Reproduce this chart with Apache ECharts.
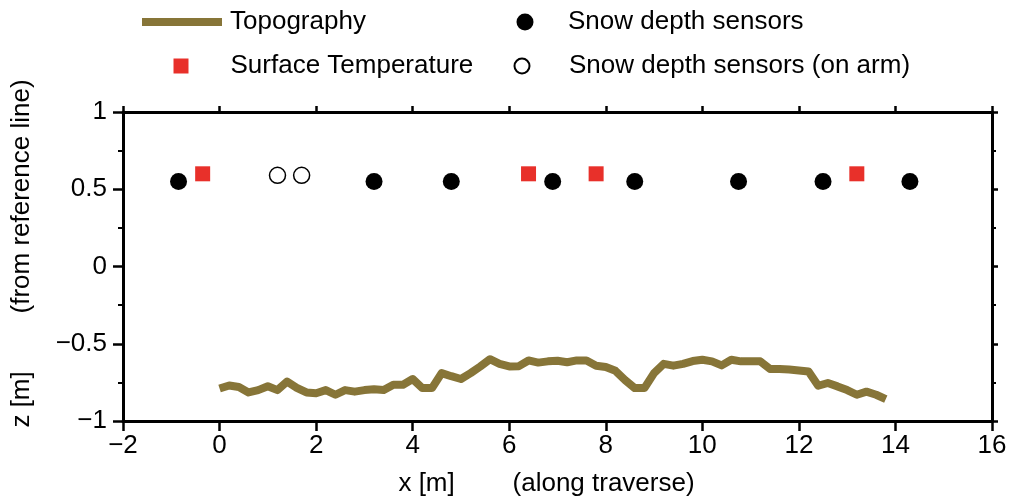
<!DOCTYPE html>
<html>
<head>
<meta charset="utf-8">
<script src="https://cdn.jsdelivr.net/npm/echarts@6/dist/echarts.min.js"></script>
<style>html,body{margin:0;padding:0;background:#fff}#c{width:1012px;height:502px}</style>
</head>
<body>
<div id="c"></div>
<script>
// Topography along traverse
const topoX = [0.0,0.2,0.4,0.6,0.8,1.0,1.2,1.4,1.6,1.8,2.0,2.2,2.4,2.6,2.8,3.0,3.2,3.4,3.6,3.8,
  4.0,4.2,4.4,4.6,4.8,5.0,5.2,5.4,5.6,5.8,6.0,6.2,6.4,6.6,6.8,7.0,7.2,7.4,7.6,7.8,
  8.0,8.2,8.4,8.6,8.8,9.0,9.2,9.4,9.6,9.8,10.0,10.2,10.4,10.6,10.8,11.0,11.2,11.4,11.6,11.8,
  12.0,12.2,12.4,12.6,12.8,13.0,13.2,13.4,13.6,13.8];
const topoZ = [-0.79,-0.77,-0.78,-0.815,-0.80,-0.775,-0.80,-0.745,-0.785,-0.815,-0.82,-0.80,-0.83,-0.80,-0.81,-0.80,-0.795,-0.80,-0.765,-0.765,
  -0.728,-0.787,-0.787,-0.69,-0.71,-0.728,-0.69,-0.647,-0.60,-0.63,-0.647,-0.645,-0.608,-0.622,-0.614,-0.61,-0.62,-0.608,-0.608,-0.642,
  -0.65,-0.675,-0.735,-0.787,-0.787,-0.69,-0.63,-0.642,-0.63,-0.612,-0.604,-0.614,-0.64,-0.604,-0.614,-0.614,-0.614,-0.663,-0.663,-0.667,
  -0.673,-0.68,-0.772,-0.754,-0.776,-0.80,-0.83,-0.81,-0.83,-0.858];
// Surface temperature sensors
const tempX = [-0.35, 6.4, 7.8, 13.2];
const tempZ = [0.6, 0.6, 0.6, 0.6];
// Snow depth sensors
const snowX = [-0.85, 3.2, 4.8, 6.9, 8.6, 10.75, 12.5, 14.3];
const snowZ = [0.55, 0.55, 0.55, 0.55, 0.55, 0.55, 0.55, 0.55];
// Snow depth sensors on arm
const armX = [1.2, 1.7];
const armZ = [0.59, 0.59];

const pairs = (xs, ys) => xs.map((x, i) => [x, ys[i]]);
const FONT = 'Liberation Sans';
const FS = 26;
const minus = v => String(v).replace('-', '\u2212');

const axisLineStyle = {color: '#000', width: 3};
const tickStyle = {color: '#000', width: 2.5};

const legendBase = {
  orient: 'horizontal', padding: 0, selectedMode: false,
  textStyle: {fontFamily: FONT, fontSize: FS, color: '#000', lineHeight: 26}
};

const option = {
  backgroundColor: '#fff',
  animation: false,
  grid: {left: 123, right: 20, top: 112, bottom: 81, containLabel: false},
  legend: [
    Object.assign({}, legendBase, {data: ['Topography'], left: 142, top: 9, icon: 'rect', itemWidth: 80, itemHeight: 8,
      textStyle: Object.assign({}, legendBase.textStyle, {padding: [0,0,0,3]})}),
    Object.assign({}, legendBase, {data: ['Surface Temperature'], left: 173.5, top: 53, itemWidth: 15, itemHeight: 15,
      textStyle: Object.assign({}, legendBase.textStyle, {padding: [0,0,0,37]})}),
    Object.assign({}, legendBase, {data: ['Snow depth sensors'], left: 516.5, top: 9, itemWidth: 17, itemHeight: 17,
      textStyle: Object.assign({}, legendBase.textStyle, {padding: [0,0,0,29.5]})}),
    Object.assign({}, legendBase, {data: ['Snow depth sensors (on arm)'], left: 513.5, top: 53, itemWidth: 15, itemHeight: 15,
      textStyle: Object.assign({}, legendBase.textStyle, {padding: [0,0,0,34.5]})})
  ],
  xAxis: [
    {type: 'value', position: 'bottom', min: -2, max: 16, interval: 2,
     name: 'x [m]        (along traverse)', nameLocation: 'middle', nameGap: 50,
     nameTextStyle: {fontFamily: FONT, fontSize: FS, color: '#000', padding: [0,22,0,0]},
     axisLine: {show: true, onZero: false, lineStyle: axisLineStyle},
     axisTick: {show: true, inside: false, length: 10, lineStyle: tickStyle},
     axisLabel: {fontFamily: FONT, fontSize: FS, color: '#000', margin: 12, formatter: minus},
     splitLine: {show: false}},
    {type: 'value', position: 'top', min: -2, max: 16, interval: 2,
     axisLine: {show: true, onZero: false, lineStyle: axisLineStyle},
     axisTick: {show: true, inside: false, length: 6, lineStyle: tickStyle},
     axisLabel: {show: false}, splitLine: {show: false}}
  ],
  yAxis: [
    {type: 'value', position: 'left', min: -1, max: 1, interval: 0.5,
     name: 'z [m]        (from reference line)', nameLocation: 'middle', nameGap: 88,
     nameTextStyle: {fontFamily: FONT, fontSize: FS, color: '#000', padding: [0,0,0,26]},
     axisLine: {show: true, onZero: false, lineStyle: axisLineStyle},
     axisTick: {show: true, inside: false, length: 10, lineStyle: tickStyle},
     minorTick: {show: true, splitNumber: 2, length: 5, lineStyle: {color: '#000', width: 2}},
     axisLabel: {fontFamily: FONT, fontSize: FS, color: '#000', margin: 16, formatter: minus},
     splitLine: {show: false}, minorSplitLine: {show: false}},
    {type: 'value', position: 'right', min: -1, max: 1, interval: 0.5,
     axisLine: {show: true, onZero: false, lineStyle: axisLineStyle},
     axisTick: {show: true, inside: false, length: 6, lineStyle: tickStyle},
     minorTick: {show: true, splitNumber: 2, length: 4, lineStyle: {color: '#000', width: 2}},
     axisLabel: {show: false}, splitLine: {show: false}}
  ],
  series: [
    {name: 'Topography', type: 'line', data: pairs(topoX, topoZ), showSymbol: false, symbol: 'none',
     color: '#877538', lineStyle: {width: 8, color: '#877538', join: 'round', cap: 'butt'}, z: 2},
    {name: 'Surface Temperature', type: 'scatter', data: pairs(tempX, tempZ), symbol: 'rect', symbolSize: 15,
     itemStyle: {color: '#E8302A', opacity: 1}, z: 3},
    {name: 'Snow depth sensors', type: 'scatter', data: pairs(snowX, snowZ), symbol: 'circle', symbolSize: 17,
     itemStyle: {color: '#000', opacity: 1}, z: 3},
    {name: 'Snow depth sensors (on arm)', type: 'scatter', data: pairs(armX, armZ), symbol: 'circle', symbolSize: 16,
     itemStyle: {color: '#fff', borderColor: '#000', borderWidth: 1.5, opacity: 1}, z: 3}
  ]
};

const chart = echarts.init(document.getElementById('c'), null, {renderer: 'canvas'});
chart.setOption(option);
</script>
</body>
</html>
